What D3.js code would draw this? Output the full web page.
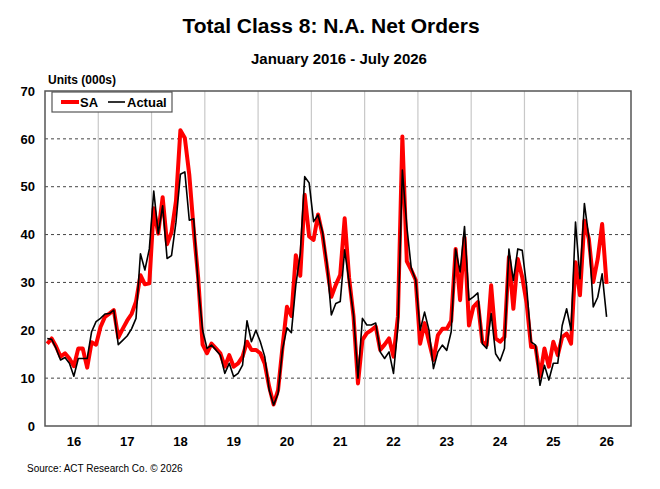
<!DOCTYPE html>
<html>
<head>
<meta charset="utf-8">
<script src="https://cdn.jsdelivr.net/npm/d3@7"></script>
<style>
  body { margin: 0; background: #fff; }
  svg { display: block; font-family: "Liberation Sans", Arial, sans-serif; }
</style>
</head>
<body>
<svg id="chart" width="660" height="489"></svg>
<script>
// ---- data: monthly net orders, Jan 2016 .. Jul 2026 (000s units) ----
let yearLabels = ['16', '17', '18', '19', '20', '21', '22', '23', '24', '25', '26']
let yTicks = [0, 10, 20, 30, 40, 50, 60, 70]

let saOrders = [
  17.2, 18.3, 16.6, 14.5, 15.2, 14.1, 12.5, 16.2, 16.2, 12.2, 17.5, 17.0,   // 2016
  20.7, 22.8, 23.5, 24.2, 18.5, 20.3, 22.0, 23.4, 26.0, 31.5, 29.6, 29.8,   // 2017
  45.5, 40.2, 47.8, 38.0, 40.5, 47.0, 61.8, 60.2, 52.5, 41.0, 31.0, 17.0,   // 2018
  15.2, 17.2, 16.2, 15.2, 12.4, 14.8, 12.4, 13.1, 14.5, 17.6, 15.9, 15.9,   // 2019
  15.2, 13.0, 8.2, 4.5, 7.5, 16.5, 24.9, 23.0, 35.7, 31.4, 48.3, 39.6,      // 2020
  38.9, 44.2, 40.0, 33.3, 27.0, 29.5, 31.6, 43.4, 31.0, 22.9, 8.9, 18.0,    // 2021
  19.4, 20.0, 20.8, 15.9, 17.0, 18.3, 14.5, 22.9, 60.5, 34.4, 32.6, 30.5,   // 2022
  17.2, 21.5, 17.6, 13.8, 19.0, 20.3, 20.3, 22.0, 37.0, 26.3, 39.4, 21.0,   // 2023
  24.9, 25.9, 17.6, 16.9, 29.4, 18.3, 17.6, 18.6, 35.3, 24.5, 34.9, 31.1,   // 2024
  25.6, 16.5, 16.5, 10.3, 16.2, 12.4, 17.6, 14.8, 18.6, 19.3, 17.2, 34.2,   // 2025
  27.3, 42.9, 39.1, 30.1, 34.9, 42.2, 29.7                                  // 2026
]

let actualOrders = [
  18.3, 18.1, 16.2, 13.8, 14.3, 13.1, 10.4, 14.1, 14.1, 14.1, 19.7, 21.8,   // 2016
  22.5, 23.4, 23.5, 24.2, 17.0, 17.9, 18.8, 20.3, 22.5, 36.0, 32.6, 37.0,   // 2017
  49.1, 40.2, 46.0, 35.0, 35.6, 42.6, 52.6, 53.1, 43.0, 43.3, 29.5, 20.0,   // 2018
  16.2, 16.9, 15.9, 14.8, 11.0, 13.1, 10.3, 11.0, 12.7, 22.0, 17.6, 20.0,   // 2019
  17.6, 14.5, 7.5, 4.4, 6.8, 16.0, 20.5, 19.5, 29.5, 36.0, 52.1, 50.8,      // 2020
  42.7, 44.1, 40.6, 34.0, 23.2, 25.6, 26.0, 36.8, 30.0, 23.2, 10.0, 22.5,   // 2021
  21.1, 21.1, 21.5, 15.5, 14.1, 15.5, 11.0, 20.8, 53.5, 41.7, 33.0, 30.5,   // 2022
  20.0, 23.8, 20.0, 12.0, 15.5, 16.9, 15.8, 19.7, 37.0, 32.2, 41.7, 26.3,   // 2023
  27.0, 27.8, 17.2, 16.2, 23.5, 15.1, 13.6, 16.2, 37.0, 30.4, 37.0, 36.7,   // 2024
  29.0, 17.6, 16.9, 8.5, 12.7, 9.6, 13.1, 13.1, 21.0, 24.5, 20.0, 42.6,     // 2025
  30.8, 46.5, 39.4, 24.9, 26.9, 31.8, 22.8                                  // 2026
]

// ---- layout ----
let svg = d3.select('#chart')
let plot = { left: 45, top: 91, right: 631, bottom: 426 }

let x = d3.scaleLinear()
    .domain([0, yearLabels.length * 12])
    .range([plot.left, plot.right])
let y = d3.scaleLinear()
    .domain([0, 70])
    .range([plot.bottom, plot.top])

/* -------------- titles -------------- */

svg.append('text')
    .attr('x', 331).attr('y', 33)
    .attr('text-anchor', 'middle')
    .style('font-size', '21px').style('font-weight', 'bold')
    .text('Total Class 8: N.A. Net Orders')

svg.append('text')
    .attr('x', 339).attr('y', 64)
    .attr('text-anchor', 'middle')
    .style('font-size', '15px').style('font-weight', 'bold')
    .text('January 2016 - July 2026')

svg.append('text')
    .attr('x', 48).attr('y', 84)
    .style('font-size', '12px').style('font-weight', 'bold')
    .text('Units (000s)')

svg.append('text')
    .attr('x', 27).attr('y', 472)
    .style('font-size', '10px')
    .text('Source: ACT Research Co. \u00a9 2026')

/* -------------- grid -------------- */

let g = svg.append('g')

g.selectAll('.hgrid')
    .data(yTicks.filter(function (d) { return d > 0 && d < 70 }))
    .enter().append('line')
    .attr('class', 'hgrid')
    .attr('x1', plot.left).attr('x2', plot.right)
    .attr('y1', function (d) { return y(d) }).attr('y2', function (d) { return y(d) })
    .attr('stroke', '#444').attr('stroke-width', 1)
    .attr('stroke-dasharray', '3,3')

g.selectAll('.vgrid')
    .data(d3.range(1, yearLabels.length))
    .enter().append('line')
    .attr('class', 'vgrid')
    .attr('x1', function (d) { return x(d * 12) }).attr('x2', function (d) { return x(d * 12) })
    .attr('y1', plot.top).attr('y2', plot.bottom)
    .attr('stroke', '#c8c8c8').attr('stroke-width', 1.2)

// axes
let yAxis = d3.axisLeft(y).tickValues(yTicks).tickSize(0).tickPadding(10)
g.append('g')
    .attr('transform', 'translate(' + plot.left + ',0)')
    .call(yAxis)
    .call(function (a) { a.select('.domain').remove() })
    .selectAll('text')
    .style('font-size', '13px').style('font-weight', 'bold')
    .style('font-family', '"Liberation Sans", Arial, sans-serif')
    .attr('fill', '#000')

let xAxis = d3.axisBottom(x)
    .tickValues(d3.range(yearLabels.length).map(function (d) { return d * 12 + 6.4 }))
    .tickFormat(function (d, i) { return yearLabels[i] })
    .tickSize(0).tickPadding(11)
g.append('g')
    .attr('transform', 'translate(0,' + plot.bottom + ')')
    .call(xAxis)
    .call(function (a) { a.select('.domain').remove() })
    .selectAll('text')
    .style('font-size', '13px').style('font-weight', 'bold')
    .style('font-family', '"Liberation Sans", Arial, sans-serif')
    .attr('fill', '#000')

/* -------------- series -------------- */

let line = d3.line()
    .x(function (d, i) { return x(i + 0.5) })
    .y(function (d) { return y(d) })

g.append('path')
    .datum(saOrders)
    .attr('d', line)
    .attr('fill', 'none')
    .attr('stroke', '#ff0000')
    .attr('stroke-width', 4)
    .attr('stroke-linejoin', 'round')

g.append('path')
    .datum(actualOrders)
    .attr('d', line)
    .attr('fill', 'none')
    .attr('stroke', '#000')
    .attr('stroke-width', 1.6)
    .attr('stroke-linejoin', 'round')

// plot frame
g.append('rect')
    .attr('x', plot.left).attr('y', plot.top)
    .attr('width', plot.right - plot.left).attr('height', plot.bottom - plot.top)
    .attr('fill', 'none').attr('stroke', '#555').attr('stroke-width', 1.5)

/* -------------- legend -------------- */

let legend = svg.append('g').attr('transform', 'translate(52,92)')
legend.append('rect')
    .attr('width', 120).attr('height', 20)
    .attr('fill', '#fff').attr('stroke', '#555').attr('stroke-width', 1.2)
legend.append('line')
    .attr('x1', 9).attr('x2', 27).attr('y1', 10).attr('y2', 10)
    .attr('stroke', '#ff0000').attr('stroke-width', 4)
legend.append('text')
    .attr('x', 28).attr('y', 15)
    .style('font-size', '13px').style('font-weight', 'bold')
    .text('SA')
legend.append('line')
    .attr('x1', 56).attr('x2', 73).attr('y1', 10).attr('y2', 10)
    .attr('stroke', '#000').attr('stroke-width', 1.6)
legend.append('text')
    .attr('x', 75).attr('y', 15)
    .style('font-size', '13px').style('font-weight', 'bold')
    .text('Actual')
</script>
</body>
</html>
